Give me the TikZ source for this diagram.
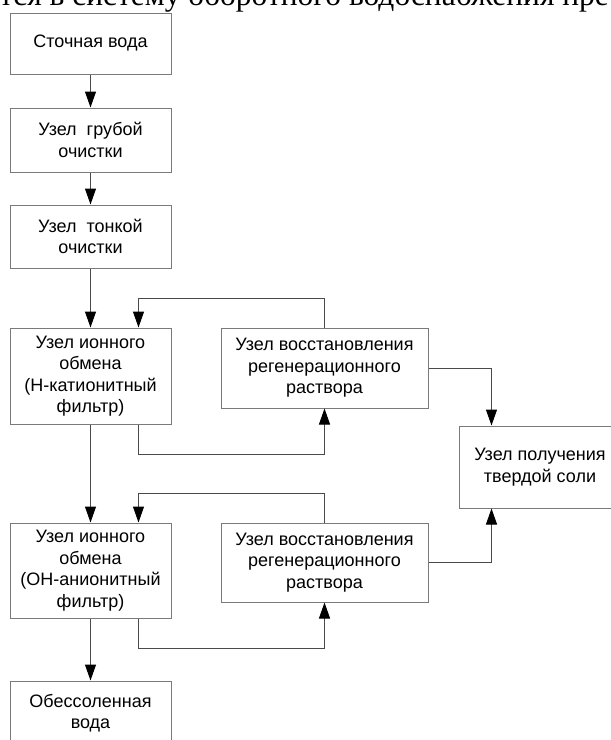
\documentclass[tikz,border=0pt]{standalone}
\usepackage{fontspec}
\setmainfont{Liberation Sans}
\newfontfamily\serifru{Liberation Serif}
\usetikzlibrary{arrows.meta,calc}
\definecolor{boxline}{HTML}{7A7A7A}
\definecolor{conline}{HTML}{4A4A4A}
\tikzset{
  blk/.style={draw=boxline, line width=0.75pt, rectangle, inner sep=0pt, align=center,
    font=\fontsize{13.5}{16.1}\selectfont, text=black},
  leftbox/.style={blk, minimum width=120.75pt},
  regbox/.style={blk, minimum width=155.25pt},
  conn/.style={draw=conline, line width=0.75pt},
  arr/.style={conn, -{Triangle[width=8.25pt,length=12pt,fill=black,color=black]}},
}
\begin{document}
\begin{tikzpicture}[x=0.75pt,y=-0.75pt]
\path[use as bounding box, clip] (0,0) rectangle (611,740);
\fill[white] (0,0) rectangle (611,740);
\node[anchor=base west, inner sep=0pt, font=\serifru\fontsize{23.6}{28}\selectfont] (toptext) at (-1,5) {тся в систему оборотного водоснабжения пре};

\node[leftbox, minimum height=45.75pt] (b1) at (90.5,43.5) {Сточная вода};
\node[leftbox, minimum height=48pt] (b2) at (90.5,140) {Узел\ \ грубой\\очистки};
\node[leftbox, minimum height=47.25pt] (b3) at (90.5,236.5) {Узел\ \ тонкой\\очистки};
\node[leftbox, minimum height=72pt] (b4) at (90.5,376) {Узел ионного\\обмена\\(H-катионитный\\фильтр)};
\node[regbox, minimum height=60pt] (r1) at (324.5,368) {Узел восстановления\\регенерационного\\раствора};
\node[blk, minimum width=121.5pt, minimum height=61.5pt] (b6) at (540,467) {Узел получения\\твердой соли};
\node[leftbox, minimum height=71.25pt] (b5) at (90.5,570.5) {Узел ионного\\обмена\\(OH-анионитный\\фильтр)};
\node[regbox, minimum height=59.25pt] (r2) at (324.5,562.5) {Узел восстановления\\регенерационного\\раствора};
\node[leftbox, minimum height=48pt] (b7) at (90.5,713) {Обессоленная\\вода};

\coordinate (b4in) at ($(b4.north east)+(-33,0)$);
\coordinate (b4out) at ($(b4.south east)+(-33,0)$);
\coordinate (b5in) at ($(b5.north east)+(-33,0)$);
\coordinate (b5out) at ($(b5.south east)+(-33,0)$);
\coordinate (b6in) at ($(b6.north west)+(33,0)$);
\coordinate (b6in2) at ($(b6.south west)+(33,0)$);

\draw[arr] (b1.south) -- (b2.north);
\draw[arr] (b2.south) -- (b3.north);
\draw[arr] (b3.south) -- (b4.north);
\draw[arr] (r1.north) -- ++(0,-29) -| (b4in);
\draw[arr] (b4out) -- ++(0,30) -| (r1.south);
\draw[arr] (r1.east) -| (b6in);
\draw[arr] (b4.south) -- (b5.north);
\draw[arr] (r2.north) -- ++(0,-29) -| (b5in);
\draw[arr] (b5out) -- ++(0,30) -| (r2.south);
\draw[arr] (r2.east) -| (b6in2);
\draw[arr] (b5.south) -- (b7.north);
\end{tikzpicture}
\end{document}
